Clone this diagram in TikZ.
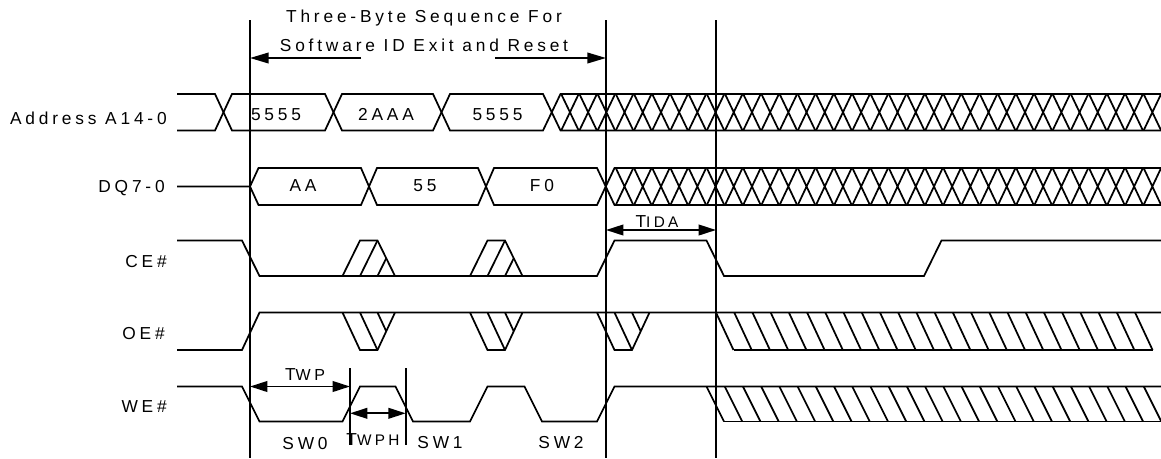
\documentclass[tikz,border=0pt]{standalone}
\usepackage{fontspec}
\newfontfamily\wavefont[LetterSpace=22]{Liberation Sans}
\usetikzlibrary{arrows.meta, positioning}

\begin{document}
\begin{tikzpicture}
    [
      x=0.75pt, y=-0.75pt,
      SIG/.style={line width=1.3pt, black, line join=miter},
      GUIDE/.style={line width=1.3pt, black},
      ONEWAY/.style={line width=1.3pt, black, -{Triangle[length=14pt, width=8pt]}},
      DIM/.style={line width=1.3pt, black, {Triangle[length=13pt, width=8pt]}-{Triangle[length=13pt, width=8pt]}},
      NAME/.style={anchor=base east, inner sep=0pt, font=\wavefont\fontsize{13}{15}\selectfont},
      TXT/.style={anchor=base, inner sep=0pt, font=\wavefont\fontsize{13}{15}\selectfont},
    ]

    \clip (0,0) rectangle (1161,458);

    % guide lines
    \coordinate (gL) at (250,20);
    \coordinate (gM) at (606,20);
    \coordinate (gR) at (716,20);
    \draw[GUIDE] (gL) -- ++(0,438);
    \draw[GUIDE] (gM) -- ++(0,438);
    \draw[GUIDE] (gR) -- ++(0,438);

    % sequence heading
    \node[TXT] (seqTop) at (424,22.7) {Three-Byte Sequence For};
    \node[TXT] (seqBot) at (424,51.7) {Software ID Exit and Reset};
    \coordinate (seqL) at (361,58);
    \coordinate (seqR) at (495,58);
    \draw[ONEWAY] (seqL) -- (gL |- seqL);
    \draw[ONEWAY] (seqR) -- (gM |- seqR);

    % signal names
    \node[NAME] (nmAddr) at (167,124) {Address A14-0};
    \node[NAME] (nmDQ) at (165,192.7) {DQ7-0};
    \node[NAME] (nmCE) at (167,267.7) {CE\#};
    \node[NAME] (nmOE) at (165,339.3) {OE\#};
    \node[NAME] (nmWE) at (167,412.7) {WE\#};

    % Address A14-0
    \draw[SIG] (177,94) -- (215,94) -- (232,130.5) -- (325,130.5) -- (342,94) -- (433,94) -- (450,130.5) -- (543,130.5) -- (560.5,94) -- (1161,94);
    \draw[SIG] (177,130.5) -- (215,130.5) -- (232,94) -- (325,94) -- (342,130.5) -- (433,130.5) -- (450,94) -- (543,94) -- (560.5,130.5) -- (1161,130.5);
    \foreach \k in {1,...,33}
      \draw[SIG] ({543+18.2*\k},94) -- ++(17.5,36.5) ({543+18.2*\k},130.5) -- ++(17.5,-36.5);
    \node[TXT] (adr1) at (276,120) {5555};
    \node[TXT] (adr2) at (386,120) {2AAA};
    \node[TXT] (adr3) at (497.5,120) {5555};

    % DQ7-0
    \draw[SIG] (177,186.5) -- (250,186.5) -- (258.5,168) -- (361,168) -- (377,205) -- (478,205) -- (494,168) -- (597,168) -- (614.5,205) -- (1161,205);
    \draw[SIG] (250,186.5) -- (258.5,205) -- (361,205) -- (377,168) -- (478,168) -- (494,205) -- (597,205) -- (614.5,168) -- (1161,168);
    \foreach \k in {4,...,33}
      \draw[SIG] ({543+18.2*\k},168) -- ++(17.5,37) ({543+18.2*\k},205) -- ++(17.5,-37);
    \node[TXT] (dq1) at (303,191.7) {AA};
    \node[TXT] (dq2) at (425,191.7) {55};
    \node[TXT] (dq3) at (542,191.7) {F0};

    % CE#
    \draw[SIG] (177,240.5) -- (242,240.5) -- (259.5,276) -- (597,276) -- (614.5,240.5) -- (706.5,240.5) -- (724,276) -- (924,276) -- (941.5,240.5) -- (1161,240.5);
    \foreach \x in {342.5,470} {
      \draw[SIG] (\x,276) -- ++(17.5,-35.5) -- ++(17.5,0) -- ++(17.5,35.5);
      \draw[SIG] ({\x+17.5},276) -- ++(17.5,-35.5);
      \draw[SIG] ({\x+35},276) -- ++(8.75,-17.75);
    }

    % OE#
    \draw[SIG] (177,350) -- (242,350) -- (259.5,312.5) -- (1161,312.5);
    \foreach \x in {342.5,470,597} {
      \draw[SIG] (\x,312.5) -- ++(17.5,37.5) -- ++(17.5,0) -- ++(17.5,-37.5);
      \draw[SIG] ({\x+17.5},312.5) -- ++(17.5,37.5);
      \draw[SIG] ({\x+35},312.5) -- ++(8.75,18.75);
    }
    \draw[SIG] (733.5,350) -- (1152.5,350);
    \foreach \k in {0,...,23}
      \draw[SIG] ({716+18.22*\k},312.5) -- ++(17.5,37.5);

    % WE#
    \draw[SIG] (177,386.5) -- (242,386.5) -- (259.5,421.5) -- (342.5,421.5) -- (360,386.5) -- (395.5,386.5) -- (413,421.5) -- (470,421.5) -- (487.5,386.5) -- (524.5,386.5) -- (542,421.5) -- (597,421.5) -- (614.5,386.5) -- (1161,386.5);
    \draw[SIG] (724,421.5) -- (1161,421.5);
    \foreach \k in {0,...,25}
      \draw[SIG] ({706.5+18.22*\k},386.5) -- ++(17.5,35);

    % timing marks
    \coordinate (tidaA) at (606,230);
    \coordinate (tidaB) at (716,230);
    \draw[DIM] (tidaA) -- (tidaB);
    \node[TXT] (tida) at (657,227.5) {T{\fontsize{11.5}{12}\selectfont IDA}};

    \coordinate (twpA) at (250,386.5);
    \coordinate (twpB) at (350,386.5);
    \coordinate (twphB) at (405.7,413.3);
    \draw[GUIDE] (twpB |- 0,368) -- (twpB |- 0,445);
    \draw[GUIDE] (twphB |- 0,368) -- (twphB |- 0,445);
    \draw[DIM] (twpA) -- (twpB);
    \draw[DIM] (twpB |- twphB) -- (twphB);
    \node[TXT] (twp) at (305,380) {T{\fontsize{12}{12}\selectfont WP}};
    \node[TXT] (twph) at (373,445) {T{\fontsize{11.5}{12}\selectfont WPH}};

    \node[TXT] (sw0) at (305,449) {SW0};
    \node[TXT] (sw1) at (440,448) {SW1};
    \node[TXT] (sw2) at (561,448) {SW2};

  \end{tikzpicture}
\end{document}
